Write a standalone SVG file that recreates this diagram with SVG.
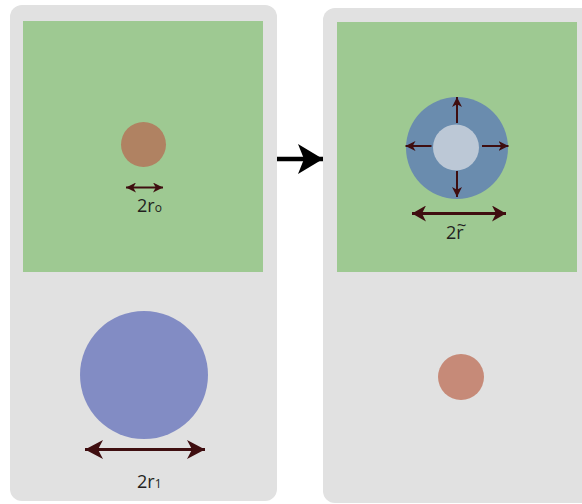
<svg xmlns="http://www.w3.org/2000/svg" width="582" height="504" viewBox="0 0 582 504">
  <style>
    .panel { fill: #e1e1e1; }
    .field { fill: #9ec992; }
    .dim { stroke: #3f0e10; fill: none; }
    .label { font-family: "Open Sans", "Liberation Sans", sans-serif; font-size: 18px; fill: #231f20; }
    .sub { font-size: 12px; }
  </style>
  <defs>
    <marker id="head-sm" markerUnits="userSpaceOnUse" markerWidth="10" markerHeight="10" viewBox="0 0 10 10" refX="10" refY="5" orient="auto-start-reverse">
      <path d="M0,0 L10,5 L0,10 L2.8,5 Z" fill="#3f0e10"/>
    </marker>
    <marker id="head-md" markerUnits="userSpaceOnUse" markerWidth="14" markerHeight="16" viewBox="0 0 14 16" refX="14" refY="8" orient="auto-start-reverse">
      <path d="M0,0 L14,8 L0,16 L4,8 Z" fill="#3f0e10"/>
    </marker>
    <marker id="head-lg" markerUnits="userSpaceOnUse" markerWidth="18" markerHeight="19" viewBox="0 0 18 19" refX="18" refY="9.5" orient="auto-start-reverse">
      <path d="M0,0 L18,9.5 L0,19 L5,9.5 Z" fill="#3f0e10"/>
    </marker>
    <marker id="head-step" markerUnits="userSpaceOnUse" markerWidth="26" markerHeight="30" viewBox="0 0 26 30" refX="25" refY="15" orient="auto">
      <path d="M0,0 L25,15 L0,30 L6,15 Z" fill="#000"/>
    </marker>
  </defs>

  <!-- initial state -->
  <g id="panel-before">
    <rect class="panel" x="10" y="5" width="267" height="496" rx="12"/>
    <rect class="field" x="23" y="21" width="240" height="251"/>
  </g>
  <g id="seed-before">
    <circle cx="143.5" cy="144.5" r="22.5" fill="#b08262"/>
    <text class="label" x="137" y="212">2r<tspan class="sub">o</tspan></text>
  </g>
  <g id="disk-before">
    <circle cx="144" cy="375" r="64" fill="#828cc4"/>
    <text class="label" x="137" y="488">2r<tspan class="sub">1</tspan></text>
  </g>

  <!-- final state -->
  <g id="panel-after">
    <rect class="panel" x="323" y="8" width="270" height="495" rx="12"/>
    <rect class="field" x="337" y="22" width="240" height="250"/>
  </g>
  <g id="ring-after">
    <circle cx="457" cy="148" r="51" fill="#6a8cae"/>
    <circle cx="456" cy="147.5" r="23" fill="#bcc8d6"/>
    <text class="label" x="446" y="239">2r<tspan dx="-7" dy="-8" font-size="17">~</tspan></text>
  </g>
  <g id="disk-after">
    <circle cx="461" cy="377" r="23" fill="#c68a78"/>
  </g>

  <!-- connectors -->
  <g id="connectors">
    <line class="dim" x1="126" y1="187.5" x2="163" y2="187.5" stroke-width="2" marker-start="url(#head-sm)" marker-end="url(#head-sm)"/>
    <line class="dim" x1="85" y1="449.5" x2="205" y2="449.5" stroke-width="3" marker-start="url(#head-lg)" marker-end="url(#head-lg)"/>
    <line class="dim" x1="412" y1="213.5" x2="506" y2="213.5" stroke-width="3" marker-start="url(#head-md)" marker-end="url(#head-md)"/>
    <line class="dim" x1="457" y1="123" x2="457" y2="97" stroke-width="2" marker-end="url(#head-sm)"/>
    <line class="dim" x1="431.5" y1="146" x2="405.5" y2="146" stroke-width="2" marker-end="url(#head-sm)"/>
    <line class="dim" x1="482" y1="146" x2="508.5" y2="146" stroke-width="2" marker-end="url(#head-sm)"/>
    <line class="dim" x1="457" y1="171" x2="457" y2="197" stroke-width="2" marker-end="url(#head-sm)"/>
    <line x1="277" y1="159" x2="323" y2="159" stroke="#000" stroke-width="4.5" marker-end="url(#head-step)"/>
  </g>
</svg>
